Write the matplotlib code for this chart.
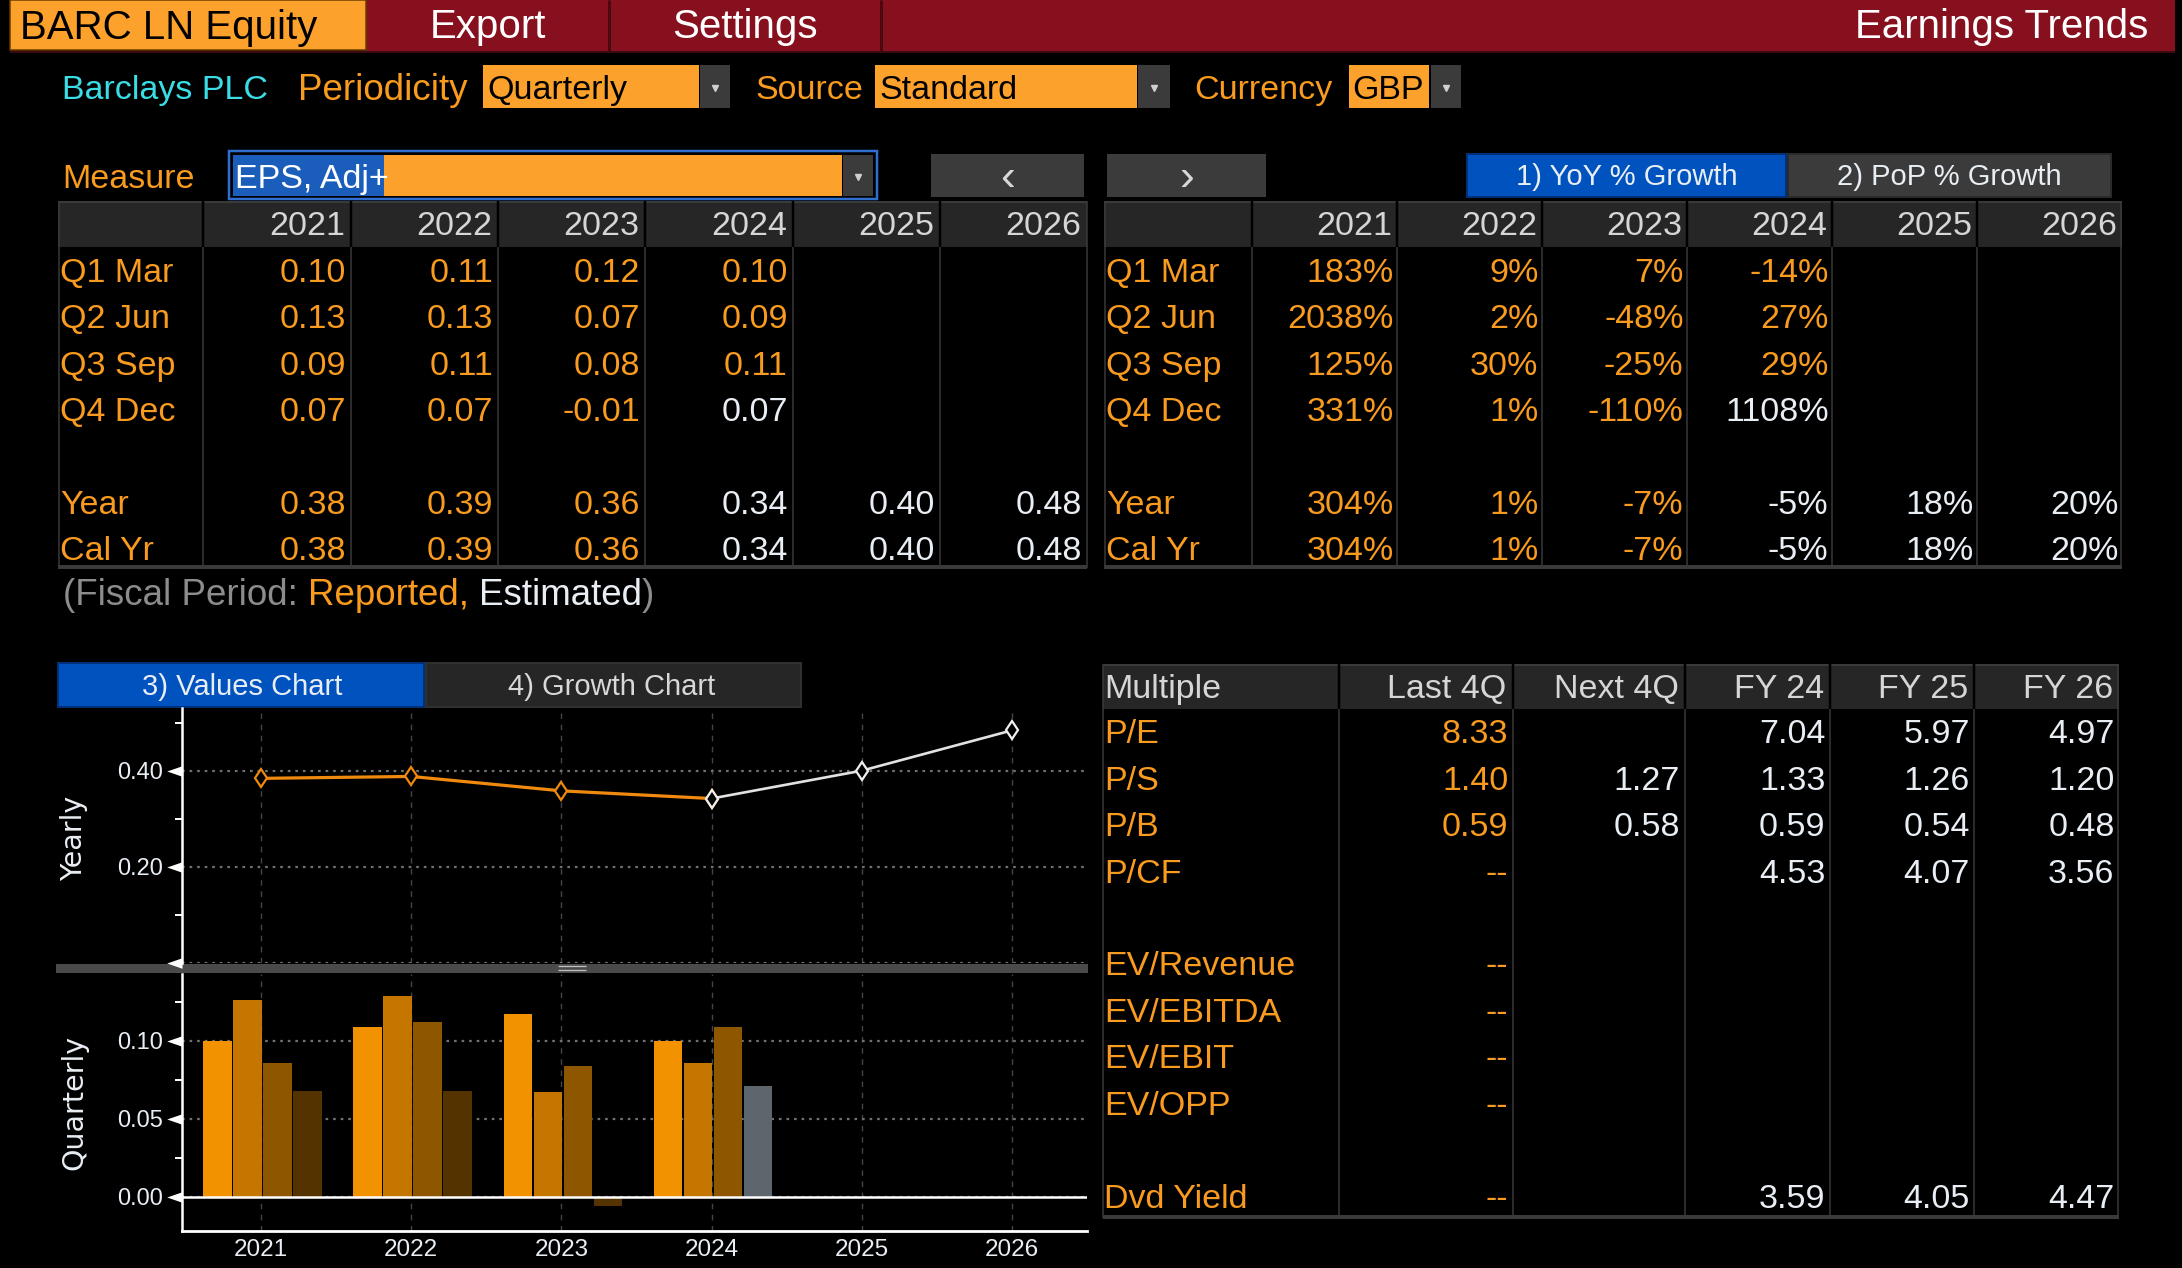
import numpy as np
import matplotlib
matplotlib.use('Agg')
import matplotlib.pyplot as plt
from matplotlib.patches import Rectangle
from matplotlib.path import Path
import matplotlib.transforms as mtransforms

# ---------------- data ----------------
ticker = 'BARC LN Equity'
company = 'Barclays PLC'
years = [2021, 2022, 2023, 2024, 2025, 2026]
year_labels = ['2021', '2022', '2023', '2024', '2025', '2026']
quarter_labels = ['Q1 Mar', 'Q2 Jun', 'Q3 Sep', 'Q4 Dec']

# quarterly EPS shown in the bar chart (2021-2024)
bar_years = [2021, 2022, 2023, 2024]
eps_q1 = [0.100, 0.109, 0.117, 0.100]
eps_q2 = [0.126, 0.129, 0.067, 0.086]
eps_q3 = [0.086, 0.112, 0.084, 0.109]
eps_q4 = [0.068, 0.068, -0.006, 0.071]
q4_estimated = [False, False, False, True]

# yearly EPS line (2021-2026); 2024 onward estimated
eps_yearly = [0.384, 0.388, 0.358, 0.342, 0.400, 0.484]
first_est_idx = 3

# table texts
eps_q_text = [
    ['0.10', '0.11', '0.12', '0.10', '', ''],
    ['0.13', '0.13', '0.07', '0.09', '', ''],
    ['0.09', '0.11', '0.08', '0.11', '', ''],
    ['0.07', '0.07', '-0.01', '0.07', '', ''],
]
eps_year_text = ['0.38', '0.39', '0.36', '0.34', '0.40', '0.48']
eps_cal_text = ['0.38', '0.39', '0.36', '0.34', '0.40', '0.48']
yoy_q_text = [
    ['183%', '9%', '7%', '-14%', '', ''],
    ['2038%', '2%', '-48%', '27%', '', ''],
    ['125%', '30%', '-25%', '29%', '', ''],
    ['331%', '1%', '-110%', '1108%', '', ''],
]
yoy_year_text = ['304%', '1%', '-7%', '-5%', '18%', '20%']
yoy_cal_text = ['304%', '1%', '-7%', '-5%', '18%', '20%']
q_est_col = [None, None, None, 3]
yr_est_col = 3

mult_labels = ['P/E', 'P/S', 'P/B', 'P/CF', '', 'EV/Revenue', 'EV/EBITDA',
               'EV/EBIT', 'EV/OPP', '', 'Dvd Yield']
mult_cols = ['Last 4Q', 'Next 4Q', 'FY 24', 'FY 25', 'FY 26']
mult_vals = [
    ['8.33', '', '7.04', '5.97', '4.97'],
    ['1.40', '1.27', '1.33', '1.26', '1.20'],
    ['0.59', '0.58', '0.59', '0.54', '0.48'],
    ['--', '', '4.53', '4.07', '3.56'],
    ['', '', '', '', ''],
    ['--', '', '', '', ''],
    ['--', '', '', '', ''],
    ['--', '', '', '', ''],
    ['--', '', '', '', ''],
    ['', '', '', '', ''],
    ['--', '', '3.59', '4.05', '4.47'],
]

yearly_ticks = [0, 0.2, 0.4]
yearly_tick_labels = ['', '0.20', '0.40']
quarterly_ticks = [0, 0.05, 0.10]
quarterly_tick_labels = ['0.00', '0.05', '0.10']

# ---------------- style ----------------
W, H = 2182, 1268
PX = 0.72
FONT = ['Liberation Sans', 'DejaVu Sans']
ORANGE = '#F99B1F'
BOXOR = '#FCA12C'
WHITE = '#E8EEF4'
HDR = '#D6D6D6'
GRAYT = '#8C8C8C'
CYAN = '#3ADDE6'
RED = '#87101F'
BLUE = '#0052BF'
BTN = '#3B3B3B'
FS = 24.5
TICKFS = 17

fig = plt.figure(figsize=(W / 100, H / 100), dpi=100, facecolor='black')
bg = fig.add_axes([0, 0, 1, 1])
bg.set_xlim(0, W)
bg.set_ylim(H, 0)
bg.axis('off')


def rect(x0, y0, x1, y1, fc, ec='none', lw=0, z=1):
    bg.add_patch(Rectangle((x0, y0), x1 - x0, y1 - y0, facecolor=fc,
                           edgecolor=ec, linewidth=lw * PX, zorder=z))


def line(x0, y0, x1, y1, c, lw, z=2):
    bg.plot([x0, x1], [y0, y1], color=c, lw=lw * PX, solid_capstyle='butt', zorder=z)


def txt(x, yc, s, size=FS, color=ORANGE, ha='left', family=None, z=5):
    base = yc + 0.358 * size * 100 / 72
    return bg.text(x, base, s, fontsize=size, color=color, ha=ha, va='baseline',
                   family=family or FONT, zorder=z)


def arrow_box(x0, y0, x1, y1):
    rect(x0, y0, x1, y1, BTN)
    bg.plot([(x0 + x1) / 2], [(y0 + y1) / 2 + 1], marker='v', ms=5, color='#D0D0D0', zorder=6)


# ---------------- top bar ----------------
rect(366, 0, 2175, 51, RED)
rect(10, 0, 366, 50, BOXOR, ec='#6a3c00', lw=1.5)
line(609, 0, 609, 51, '#4a0810', 3)
line(881, 0, 881, 51, '#4a0810', 3)
line(10, 52, 2175, 52, '#3a0a10', 2)
txt(20, 25, ticker, size=29, color='black')
txt(487.5, 24, 'Export', size=29, color='white', ha='center')
txt(745, 24, 'Settings', size=29, color='white', ha='center')
txt(2148, 24, 'Earnings Trends', size=29, color='white', ha='right')

# ---------------- second row ----------------
txt(62, 87, company, color=CYAN)
txt(298, 87, 'Periodicity', size=26.5)
rect(483, 65, 699, 108, BOXOR)
arrow_box(700, 65, 730, 108)
txt(487, 87, 'Quarterly', color='black')
txt(755.5, 87, 'Source')
rect(875, 65, 1137, 108, BOXOR)
arrow_box(1138, 65, 1170, 108)
txt(879, 87, 'Standard', color='black')
txt(1194.5, 87, 'Currency')
rect(1349, 65, 1429, 108, BOXOR)
arrow_box(1431, 65, 1461, 108)
txt(1352, 87, 'GBP', color='black')

# ---------------- third row ----------------
txt(62, 176, 'Measure')
rect(229, 151, 877, 199, 'black', ec='#2F6FD0', lw=2.5)
rect(233, 155, 842, 196, BOXOR)
rect(233, 155, 384, 196, '#1A5DBA')
arrow_box(843, 155, 873, 196)
txt(235, 176, 'EPS, Adj+', color='white')
rect(931, 154, 1084, 197, BTN)
txt(1007.5, 174, '\u2039', size=32, color='#D8D8D8', ha='center')
rect(1107, 154, 1266, 197, BTN)
txt(1186.5, 174, '\u203a', size=32, color='#D8D8D8', ha='center')
rect(1467, 154, 1786, 197, BLUE, ec='#00307a', lw=2)
txt(1627, 175, '1) YoY % Growth', size=21, color=WHITE, ha='center')
rect(1788, 154, 2111, 197, BTN, ec='#2a2a2a', lw=2)
txt(1949.5, 175, '2) PoP % Growth', size=21, color=WHITE, ha='center')


# ---------------- tables ----------------
def draw_table(edges, top, hdr_bot, bottom):
    x0, x1 = edges[0], edges[-1]
    rect(x0, top, x1, hdr_bot, '#262626')
    line(x0, top + 1, x1, top + 1, '#3a3a3a', 2)
    for e in edges[1:-1]:
        line(e, top, e, hdr_bot, '#000000', 2.5)
        line(e, hdr_bot, e, bottom, '#3a3a3a', 1.5)
    line(x0 + 0.75, top, x0 + 0.75, bottom, '#3a3a3a', 1.5)
    line(x1 - 0.75, top, x1 - 0.75, bottom, '#3a3a3a', 1.5)
    rect(x0, bottom - 3, x1, bottom + 1, '#3a3a3a')


row_y = [270 + 46.3 * i for i in range(7)]  # 4 quarters, blank, Year, Cal Yr
hdr_y = 223.3


def fill_eps_table(edges, q_text, y_text, c_text, margin):
    draw_table(edges, 200.5, 246.5, 568)
    for j, lab in enumerate(year_labels):
        txt(edges[j + 2] - margin - 1, hdr_y, lab, color=HDR, ha='right')
    for i, lab in enumerate(quarter_labels):
        txt(edges[0] + 2, row_y[i], lab)
        for j, s in enumerate(q_text[i]):
            if s:
                est = q_est_col[i] is not None and j >= q_est_col[i]
                txt(edges[j + 2] - margin, row_y[i], s, color=WHITE if est else ORANGE, ha='right')
    for r, (lab, vals) in enumerate([('Year', y_text), ('Cal Yr', c_text)]):
        y = row_y[5 + r]
        txt(edges[0] + 2, y, lab)
        for j, s in enumerate(vals):
            txt(edges[j + 2] - margin, y, s, color=WHITE if j >= yr_est_col else ORANGE, ha='right')


left_edges = [58, 203.4] + [203.4 + 147.32 * (k + 1) for k in range(6)]
right_edges = [1104, 1252] + [1252 + 145 * (k + 1) for k in range(6)]
fill_eps_table(left_edges, eps_q_text, eps_year_text, eps_cal_text, 5)
fill_eps_table(right_edges, yoy_q_text, yoy_year_text, yoy_cal_text, 3.5)

# fiscal period note
renderer = fig.canvas.get_renderer()
xpos = 63
NFS = 26.5
space = 0.278 * NFS * 100 / 72
for s, c, gap in [('(Fiscal Period:', GRAYT, space), ('Reported,', ORANGE, space),
                  ('Estimated', WHITE, 0), (')', GRAYT, 0)]:
    t = txt(xpos, 591.7, s, size=NFS, color=c)
    bb = t.get_window_extent(renderer)
    xpos = bb.x1 + gap

# multiples table
m_edges = [1102.5, 1338.6, 1512.7, 1684.7, 1830, 1974.4, 2119]
draw_table(m_edges, 664, 709, 1217.6)
txt(m_edges[0] + 2, 685.5, 'Multiple', color=HDR)
for j, lab in enumerate(mult_cols):
    txt(m_edges[j + 2] - 6, 685.5, lab, color=HDR, ha='right')
for i, lab in enumerate(mult_labels):
    y = 731 + 46.45 * i
    if lab:
        txt(m_edges[0] + 2, y, lab)
    for j, s in enumerate(mult_vals[i]):
        if s:
            txt(m_edges[j + 2] - 4.5, y, s, color=ORANGE if j == 0 else WHITE, ha='right')

# ---------------- chart tabs / separator ----------------
rect(58, 663, 424, 707, BLUE, ec='#00307a', lw=2)
txt(242, 685, '3) Values Chart', size=21, color=WHITE, ha='center')
rect(426, 663, 801, 707, '#262626', ec='#303030', lw=2)
txt(612, 685, '4) Growth Chart', size=21, color='#D8D8D8', ha='center')
rect(56, 964, 1088, 972.5, '#4a4a4a')
line(558, 966.3, 586, 966.3, '#c0c0c0', 1.3, z=3)
line(558, 970.3, 586, 970.3, '#c0c0c0', 1.3, z=3)
bg.text(74, 838, 'Yearly', rotation=90, ha='center', va='center', fontsize=20.5,
        color=WHITE, family='DejaVu Sans')
bg.text(74, 1102.5, 'Quarterly', rotation=90, ha='center', va='center', fontsize=20.5,
        color=WHITE, family='DejaVu Sans')

# ---------------- charts ----------------
XL = (2020.474, 2026.5)
AXW = 905
ax1 = fig.add_axes([182 / W, 1 - 962.7 / H, AXW / W, (962.7 - 708) / H])
ax2 = fig.add_axes([182 / W, 1 - 1230.7 / H, AXW / W, (1230.7 - 974) / H])

# yearly line chart
ax1.set_ylim(0, 0.5306)
ax1.set_yticks(yearly_ticks)
ax1.set_yticks([0.1, 0.3, 0.5], minor=True)
ax1.set_xticks(years)
ax1.set_xticklabels([])
ax1.spines['bottom'].set_visible(False)
ax1.plot(years[:first_est_idx + 1], eps_yearly[:first_est_idx + 1], color='#F08A0E', lw=2.3,
         marker='d', ms=9.5, mfc='black', mec='#F08A0E', mew=1.6, zorder=3)
ax1.plot(years[first_est_idx:], eps_yearly[first_est_idx:], color='#E2E2E2', lw=1.9,
         marker='d', ms=9.5, mfc='black', mec='#F0F0F0', mew=1.6, zorder=4)

# quarterly bar chart
ax2.set_ylim(-0.0218, 0.1428)
ax2.set_yticks(quarterly_ticks)
ax2.set_yticks([0.025, 0.075, 0.125], minor=True)
ax2.set_xticks(years)
ax2.set_xticklabels(year_labels)
ax2.spines['bottom'].set_color('white')
ax2.spines['bottom'].set_linewidth(2.0)
q_colors = ['#F39200', '#C47600', '#8F5600', '#553300']
offsets = [-0.29, -0.09, 0.11, 0.31]
bx = np.array(bar_years, dtype=float)
for qi, vals in enumerate([eps_q1, eps_q2, eps_q3, eps_q4]):
    cols = [q_colors[qi]] * len(vals)
    if qi == 3:
        cols = ['#5E666D' if e else q_colors[3] for e in q4_estimated]
    ax2.bar(bx + offsets[qi], vals, width=0.19, color=cols, zorder=2)
ax2.axhline(0, color='white', lw=1.8, zorder=3)

for ax in (ax1, ax2):
    ax.set_facecolor('none')
    ax.set_xlim(*XL)
    for sp in ('top', 'right'):
        ax.spines[sp].set_visible(False)
    ax.spines['left'].set_color('white')
    ax.spines['left'].set_linewidth(1.8)
    ax.grid(axis='x', linestyle=(0, (4, 4)), color='#444444', lw=1.0)
    ax.grid(axis='y', which='major', linestyle=(0, (1.2, 2.2)), color='#707070', lw=1.6)
    ax.set_yticklabels([])
    ax.tick_params(axis='y', which='major', length=0)
    ax.tick_params(axis='y', which='minor', length=5, width=1.4, color='white', direction='out')
    ax.tick_params(axis='x', length=0, pad=6, labelsize=17.5, labelcolor=WHITE,
                   labelfontfamily='Liberation Sans')

# y tick labels and arrow-like major ticks on the y spines
tri = Path([(-1.45, 0.0), (0.0, 0.5), (0.0, -0.5), (-1.45, 0.0)],
           [Path.MOVETO, Path.LINETO, Path.LINETO, Path.CLOSEPOLY])
for ax, ticks, labels in ((ax1, yearly_ticks, yearly_tick_labels),
                          (ax2, quarterly_ticks, quarterly_tick_labels)):
    tr = mtransforms.blended_transform_factory(ax.transAxes, ax.transData)
    ax.plot([0] * len(ticks), ticks, ls='none', marker=tri, ms=22, color='white',
            mew=0, transform=tr, clip_on=False, zorder=5)
    tr_txt = mtransforms.offset_copy(tr, fig=fig, x=0, y=-0.358 * TICKFS * 100 / 72,
                                     units='dots')
    for v, lab in zip(ticks, labels):
        ax.text(-19.5 / AXW, v, lab, transform=tr_txt, ha='right', va='baseline',
                fontsize=TICKFS, color=WHITE, family=FONT, clip_on=False)

fig.savefig('out.png', dpi=100, facecolor='black')
